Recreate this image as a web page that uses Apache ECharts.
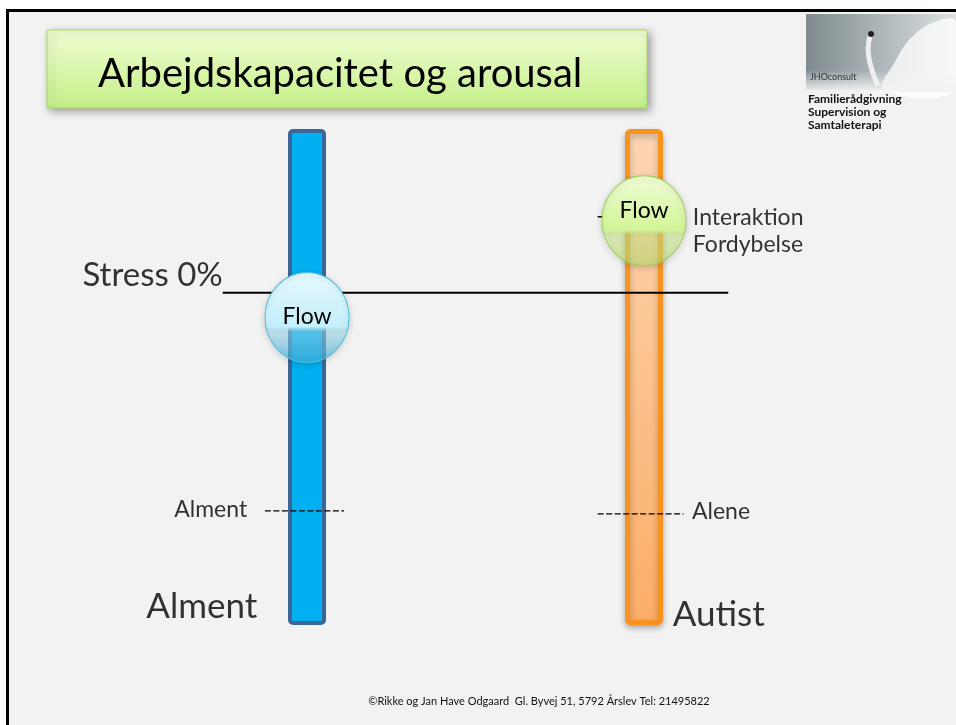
<!DOCTYPE html>
<html>
<head>
<meta charset="utf-8">
<title>Arbejdskapacitet og arousal</title>
<script src="https://cdn.jsdelivr.net/npm/echarts@6/dist/echarts.min.js"></script>
<style>
  html, body { margin: 0; padding: 0; background: #fff; }
  #chart { width: 956px; height: 725px; }
</style>
</head>
<body>
<div id="chart"></div>
<script>
// two columns on a 0..8 horizontal scale, arousal 0..100 vertically
var columns = ['Alment', 'Autist'];
var columnX = [2, 6];
var columnTop = [100, 100];

// the two "Flow" circles
var flowLevel = [62, 81.5];

// Stress 0% line
var stressLevel = 67;
var stressSpan = [1.0, 7.0];

// dashed marks (Alment, Alene, the little one behind the green Flow)
var dashLevel = [23, 22.4, 82.3];
var dashFrom = [1.5, 5.45, 5.45];
var dashTo = [2.44, 6.47, 5.9];

// text notes next to the marks
var noteX = [1.0, 1.29, 6.57, 6.58, 1.41, 6.34];
var noteY = [70.4, 23.2, 22.8, 79.4, 3.6, 2.0];
var noteText = ['Stress 0%', 'Alment', 'Alene', 'Interaktion\nFordybelse', 'Alment', 'Autist'];

var chart = echarts.init(document.getElementById('chart'));
var FONT = 'Lato, "Open Sans", sans-serif';

// look of each note (side of the anchor, font size)
var noteSide = ['left', 'left', 'right', 'right', 'left', 'right'];
var noteSize = [33, 23, 23, 23, 35, 35];

var barStyles = [
  { color: '#00b0f0', borderColor: '#3d6698', borderWidth: 4, borderRadius: 3 },
  {
    color: new echarts.graphic.LinearGradient(0, 0, 0, 1, [
      { offset: 0, color: '#fdd6b4' }, { offset: 1, color: '#fbad66' }
    ]),
    borderColor: '#f7931e', borderWidth: 5, borderRadius: 3,
    shadowBlur: 6, shadowOffsetY: 3, shadowColor: 'rgba(0,0,0,0.25)'
  }
];

var flowStyles = [
  {
    opacity: 1,
    color: new echarts.graphic.LinearGradient(0, 0, 0, 1, [
      { offset: 0, color: '#e6f9fe' },
      { offset: 0.6, color: '#c4effb' },
      { offset: 0.66, color: 'rgba(160,226,246,0.5)' },
      { offset: 1, color: 'rgba(60,175,220,0.7)' }
    ]),
    borderColor: '#4cc0df', borderWidth: 1,
    shadowBlur: 6, shadowColor: 'rgba(0,0,0,0.2)', shadowOffsetY: 2
  },
  {
    opacity: 1,
    color: new echarts.graphic.LinearGradient(0, 0, 0, 1, [
      { offset: 0, color: '#f1fcd6' },
      { offset: 0.6, color: '#d2f597' },
      { offset: 0.66, color: 'rgba(208,242,140,0.5)' },
      { offset: 1, color: 'rgba(195,232,120,0.6)' }
    ]),
    borderColor: '#9fd05c', borderWidth: 1,
    shadowBlur: 6, shadowColor: 'rgba(0,0,0,0.2)', shadowOffsetY: 2
  }
];
var flowLabelOffset = [[0, -1], [0, -10]];

var series = [];

series.push({
  type: 'bar',
  barWidth: 38,
  z: 2,
  data: columnX.map(function (x, i) {
    return { name: columns[i], value: [x, columnTop[i]], itemStyle: barStyles[i] };
  })
});

series.push({
  type: 'line',
  symbol: 'none',
  z: 3,
  silent: true,
  lineStyle: { color: '#000', width: 2 },
  data: [[stressSpan[0], stressLevel], [stressSpan[1], stressLevel]]
});

dashLevel.forEach(function (lvl, i) {
  series.push({
    type: 'line',
    symbol: 'none',
    z: 3,
    silent: true,
    lineStyle: { color: '#000', width: 1.4, type: [6, 2.5] },
    data: [[dashFrom[i], lvl], [dashTo[i], lvl]]
  });
});

series.push({
  type: 'scatter',
  z: 5,
  symbol: 'circle',
  symbolSize: [84, 90],
  itemStyle: { opacity: 1 },
  data: columnX.map(function (x, i) {
    return {
      value: [x, flowLevel[i]],
      itemStyle: flowStyles[i],
      label: {
        show: true, position: 'inside', formatter: 'Flow', offset: flowLabelOffset[i],
        color: '#000', fontSize: 23, fontFamily: FONT
      }
    };
  })
});

series.push({
  type: 'scatter',
  z: 6,
  symbolSize: 0,
  silent: true,
  data: noteX.map(function (x, i) {
    return {
      value: [x, noteY[i]],
      label: {
        show: true,
        formatter: noteText[i],
        position: noteSide[i],
        distance: 0,
        align: noteSide[i] === 'left' ? 'right' : 'left',
        color: '#000',
        fontSize: noteSize[i],
        lineHeight: noteSize[i] * 1.2,
        fontFamily: FONT
      }
    };
  })
});

var option = {
  backgroundColor: '#ffffff',
  animation: false,
  grid: { left: 138.5, right: 143.5, top: 129, bottom: 100 },
  xAxis: { type: 'value', min: 0, max: 8, show: false },
  yAxis: { type: 'value', min: 0, max: 100, show: false },
  graphic: [
    // slide background and frame
    { type: 'rect', z: -10, shape: { x: 8, y: 11, width: 960, height: 720 }, style: { fill: '#f2f2f2' } },
    { type: 'polyline', z: -9, shape: { points: [[7.5, 730], [7.5, 10.5], [960, 10.5]] },
      style: { stroke: '#000', lineWidth: 3, fill: null } },
    // title box
    { type: 'rect', z: 10, shape: { x: 47, y: 30, width: 600, height: 78 },
      style: {
        fill: new echarts.graphic.LinearGradient(0, 0, 0, 1, [
          { offset: 0, color: '#f0fdd2' }, { offset: 1, color: '#c4ef88' }
        ]),
        stroke: '#a9d66c', lineWidth: 1,
        shadowBlur: 8, shadowOffsetX: 3, shadowOffsetY: 3, shadowColor: 'rgba(0,0,0,0.35)'
      } },
    { type: 'text', z: 11, style: {
        text: 'Arbejdskapacitet og arousal', x: 98, y: 74,
        fill: '#000', fontSize: 40, fontFamily: FONT,
        align: 'left', verticalAlign: 'middle', textAlign: 'left', textVerticalAlign: 'middle'
      } },
    // logo
    { type: 'rect', z: 10, shape: { x: 806, y: 14, width: 150, height: 76 },
      style: {
        fill: new echarts.graphic.LinearGradient(0, 0, 1, 0, [
          { offset: 0, color: '#7f8b8f' }, { offset: 0.45, color: '#a9b2b5' }, { offset: 1, color: '#dde1e2' }
        ])
      } },
    { type: 'polygon', z: 11, shape: { smooth: 0.4, points: [[884, 90], [896, 60], [915, 34], [940, 20], [956, 22], [956, 90]] },
      style: { fill: 'rgba(255,255,255,0.75)' } },
    { type: 'bezierCurve', z: 11, shape: { x1: 872, y1: 32, cpx1: 862, cpy1: 50, x2: 878, y2: 86 },
      style: { stroke: 'rgba(255,255,255,0.8)', lineWidth: 5, fill: null } },
    { type: 'circle', z: 12, shape: { cx: 871, cy: 34, r: 3 }, style: { fill: '#222' } },
    { type: 'rect', z: 12, shape: { x: 806, y: 70, width: 150, height: 22 },
      style: {
        fill: new echarts.graphic.LinearGradient(0, 0, 0, 1, [
          { offset: 0, color: 'rgba(242,242,242,0)' }, { offset: 1, color: 'rgba(242,242,242,1)' }
        ])
      } },
    { type: 'text', z: 13, style: {
        text: 'JHOconsult', x: 810, y: 77, fill: '#333', fontSize: 9, fontFamily: FONT,
        align: 'left', verticalAlign: 'middle', textAlign: 'left', textVerticalAlign: 'middle'
      } },
    { type: 'text', z: 13, style: {
        text: 'Familierådgivning\nSupervision og\nSamtaleterapi', x: 808, y: 93,
        fill: '#111', fontSize: 12, lineHeight: 13, fontWeight: 'bold', fontFamily: FONT,
        align: 'left', verticalAlign: 'top', textAlign: 'left', textVerticalAlign: 'top'
      } },
    // footer
    { type: 'text', z: 10, style: {
        text: '©Rikke og Jan Have Odgaard  Gl. Byvej 51, 5792 Årslev Tel: 21495822', x: 539, y: 701,
        fill: '#111', fontSize: 11, fontFamily: FONT,
        align: 'center', verticalAlign: 'middle', textAlign: 'center', textVerticalAlign: 'middle'
      } }
  ],
  series: series
};

chart.setOption(option);
</script>
</body>
</html>
